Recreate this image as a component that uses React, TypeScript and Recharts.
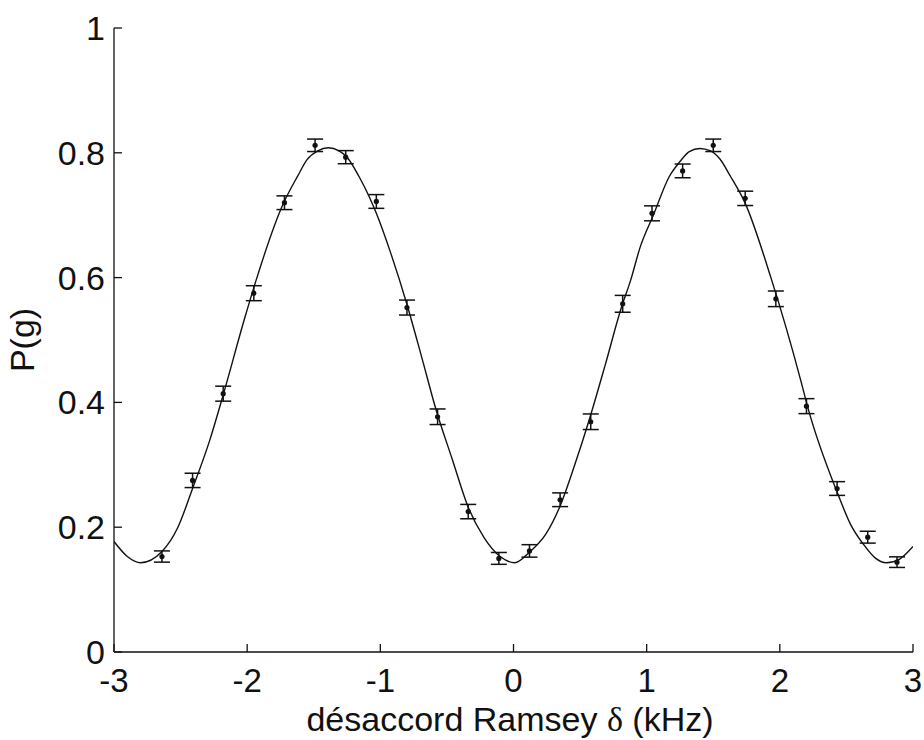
import React from "react";
import {
  ComposedChart,
  Line,
  Scatter,
  ErrorBar,
  XAxis,
  YAxis,
} from "recharts";

// fitted curve
const fitX = [
  -3.0, -2.9, -2.8, -2.64, -2.52, -2.41, -2.28, -2.18, -2.02, -1.95, -1.73,
  -1.62, -1.55, -1.47, -1.39, -1.31, -1.25, -1.16, -1.08, -1.03, -0.92, -0.8,
  -0.69, -0.58, -0.46, -0.34, -0.22, -0.1, 0.01, 0.12, 0.24, 0.35, 0.46, 0.57,
  0.69, 0.81, 0.88, 0.95, 1.05, 1.17, 1.25, 1.32, 1.4, 1.48, 1.55, 1.63, 1.74,
  1.93, 2.16, 2.21, 2.44, 2.53, 2.63, 2.72, 2.8, 2.9, 3.0,
];
const fitY = [
  0.177, 0.153, 0.143, 0.161, 0.2, 0.262, 0.34, 0.412, 0.534, 0.584, 0.718,
  0.763, 0.789, 0.803, 0.808, 0.803, 0.793, 0.762, 0.728, 0.703, 0.638, 0.557,
  0.473, 0.387, 0.309, 0.232, 0.183, 0.153, 0.143, 0.16, 0.188, 0.234, 0.3,
  0.373, 0.461, 0.552, 0.596, 0.648, 0.7, 0.762, 0.786, 0.802, 0.807, 0.803,
  0.79, 0.762, 0.719, 0.602, 0.433, 0.392, 0.251, 0.205, 0.172, 0.15, 0.143,
  0.149, 0.169,
];

// measured points with error bars
const ptX = [
  -2.64, -2.41, -2.18, -1.95, -1.72, -1.49, -1.26, -1.03, -0.8, -0.57, -0.34,
  -0.11, 0.12, 0.35, 0.58, 0.82, 1.04, 1.27, 1.5, 1.74, 1.97, 2.2, 2.43, 2.66,
  2.88,
];
const ptY = [
  0.153, 0.275, 0.414, 0.575, 0.72, 0.812, 0.793, 0.722, 0.552, 0.377, 0.225,
  0.15, 0.162, 0.244, 0.369, 0.558, 0.703, 0.771, 0.812, 0.727, 0.566, 0.394,
  0.262, 0.184, 0.144,
];
const ptErr = [
  0.009, 0.0115, 0.012, 0.012, 0.011, 0.01, 0.0105, 0.011, 0.012, 0.0125,
  0.0115, 0.0095, 0.01, 0.011, 0.0125, 0.0135, 0.012, 0.011, 0.01, 0.0115,
  0.0125, 0.012, 0.011, 0.0095, 0.0085,
];

const xTicks = [-3, -2, -1, 0, 1, 2, 3];
const yTicks = [0, 0.2, 0.4, 0.6, 0.8, 1];

const fitData = fitX.map((x, i) => ({ x, fit: fitY[i] }));
const pointData = ptX.map((x, i) => ({ x, y: ptY[i], err: ptErr[i] }));

const FONT = "'Liberation Sans', Arial, Helvetica, sans-serif";
const INK = "#111";

const XTick = (props: any) => {
  const { x, y, payload } = props;
  return (
    <text x={x} y={y + 40} textAnchor="middle" fontFamily={FONT} fontSize={33} fill={INK}>
      {String(payload.value)}
    </text>
  );
};

const YTick = (props: any) => {
  const { x, y, payload } = props;
  return (
    <text x={x - 9} y={y + 12} textAnchor="end" fontFamily={FONT} fontSize={34} fill={INK}>
      {String(payload.value)}
    </text>
  );
};

const Dot = (props: any) => {
  const { cx, cy } = props;
  return <circle cx={cx} cy={cy} r={2.6} fill={INK} />;
};

export default function App() {
  return (
    <div style={{ position: "absolute", left: 0, top: 0, width: 924, height: 740, background: "#fff" }}>
      <ComposedChart
        width={924}
        height={740}
        margin={{ top: 28, right: 11, left: 0, bottom: 0 }}
      >
        <XAxis
          xAxisId="b"
          dataKey="x"
          type="number"
          domain={[-3, 3]}
          ticks={xTicks}
          allowDataOverflow
          height={88}
          stroke={INK}
          strokeWidth={1.3}
          tickSize={-8}
          tickMargin={8}
          tick={<XTick />}
        />
        <XAxis
          xAxisId="t"
          orientation="top"
          dataKey="x"
          type="number"
          domain={[-3, 3]}
          ticks={xTicks}
          allowDataOverflow
          height={0}
          stroke={INK}
          strokeWidth={1.3}
          tickSize={-8}
          tickFormatter={() => ""}
        />
        <YAxis
          yAxisId="l"
          type="number"
          domain={[0, 1]}
          ticks={yTicks}
          allowDataOverflow
          width={114}
          stroke={INK}
          strokeWidth={1.3}
          tickSize={-8}
          tickMargin={8}
          tick={<YTick />}
        />
        <YAxis
          yAxisId="r"
          orientation="right"
          type="number"
          domain={[0, 1]}
          ticks={yTicks}
          allowDataOverflow
          width={0}
          stroke={INK}
          strokeWidth={1.3}
          tickSize={-8}
          tickFormatter={() => ""}
        />
        <Line
          xAxisId="b"
          yAxisId="l"
          data={fitData}
          dataKey="fit"
          type="monotone"
          stroke={INK}
          strokeWidth={1.4}
          dot={false}
          activeDot={false}
          isAnimationActive={false}
        />
        <Scatter
          xAxisId="b"
          yAxisId="l"
          data={pointData}
          dataKey="y"
          shape={<Dot />}
          isAnimationActive={false}
        >
          <ErrorBar
            dataKey="err"
            direction="y"
            width={8}
            stroke={INK}
            strokeWidth={1.5}
            isAnimationActive={false}
          />
        </Scatter>
        <text
          x={22}
          y={340}
          transform="rotate(-90 22 340)"
          textAnchor="middle"
          dominantBaseline="central"
          fontFamily={FONT}
          fontSize={34}
          fill={INK}
        >
          P(g)
        </text>
        <text
          x={510}
          y={731}
          textAnchor="middle"
          fontFamily={FONT}
          fontSize={34}
          fill={INK}
        >
          désaccord Ramsey <tspan fontFamily="'Liberation Serif', 'DejaVu Serif', serif">δ</tspan> (kHz)
        </text>
      </ComposedChart>
    </div>
  );
}
